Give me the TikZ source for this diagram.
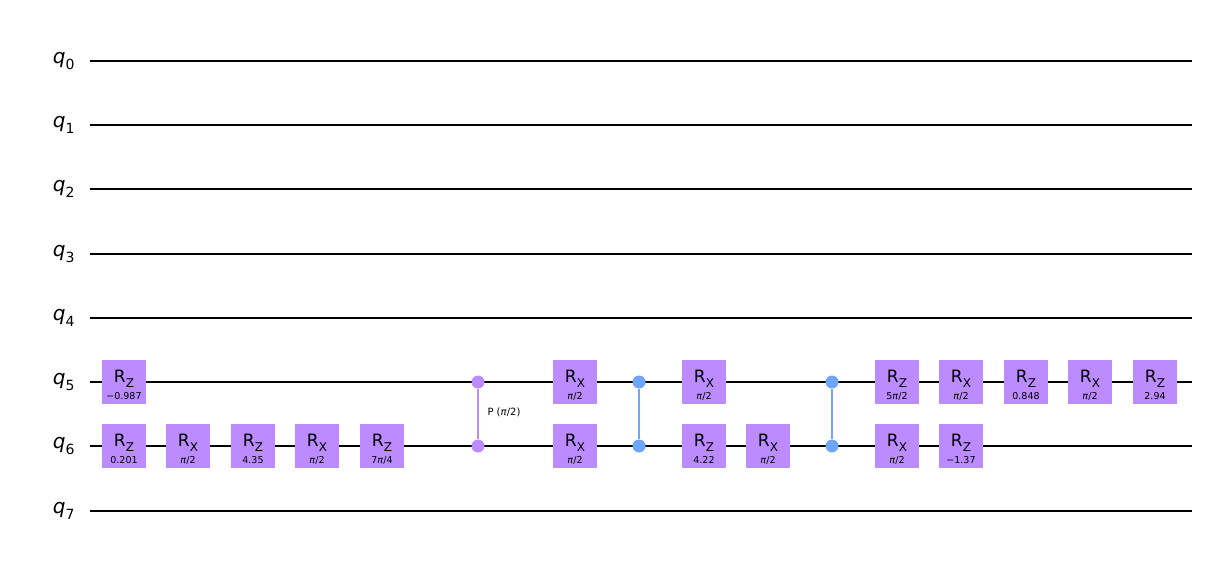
\documentclass[tikz,border=0pt]{standalone}
\usepackage{fontspec}
\setmainfont{DejaVu Sans}
\definecolor{gpurp}{RGB}{187,139,255}
\definecolor{gblue}{RGB}{111,164,255}
\begin{document}
\begin{tikzpicture}[x=1pt,y=-1pt,
  wire/.style={line width=2.2pt,black},
  gate/.style={fill=gpurp,draw=none,minimum width=44pt,minimum height=44pt,inner sep=0pt,font=\fontsize{17}{17}\selectfont,text depth=0pt},
  par/.style={inner sep=0pt,font=\fontsize{9.5}{9.5}\selectfont},
  lbl/.style={font=\fontsize{20}{20}\selectfont},
  dotp/.style={circle,fill=gpurp,minimum size=13pt,inner sep=0pt},
  dotc/.style={circle,fill=gblue,minimum size=13pt,inner sep=0pt}]
\useasboundingbox (0,0) rectangle (1207,560);
\foreach \i/\y in {0/61,1/125,2/189,3/254,4/318,5/382,6/446,7/511}{
  \node[lbl,anchor=east] (l\i) at (78,\y) {\textit{q}\raisebox{-0.3em}{\fontsize{14}{14}\selectfont\i}};
  \coordinate (ws\i) at (90,\y); \coordinate (we\i) at (1192,\y);
  \draw[wire] (ws\i) -- (we\i);
}
\newcommand{\gt}[5]{\node[gate,text height=0pt] (#1) at (#2,#3) {};
  \node[inner sep=0pt,font=\fontsize{17}{17}\selectfont] (#1t) at (#2,#3-6) {R\smash{\raisebox{-0.3em}{\fontsize{12}{12}\selectfont #4}}};
  \node[par] (#1p) at (#2,#3+14) {#5};}
% q5
\gt{a1}{124}{382}{Z}{−0.987}
\gt{a2}{575}{382}{X}{\textit{π}/2}
\gt{a3}{704}{382}{X}{\textit{π}/2}
\gt{a4}{897}{382}{Z}{5\textit{π}/2}
\gt{a5}{961}{382}{X}{\textit{π}/2}
\gt{a6}{1026}{382}{Z}{0.848}
\gt{a7}{1090}{382}{X}{\textit{π}/2}
\gt{a8}{1155}{382}{Z}{2.94}
% q6
\gt{b1}{124}{446}{Z}{0.201}
\gt{b2}{188}{446}{X}{\textit{π}/2}
\gt{b3}{253}{446}{Z}{4.35}
\gt{b4}{317}{446}{X}{\textit{π}/2}
\gt{b5}{382}{446}{Z}{7\textit{π}/4}
\gt{b6}{575}{446}{X}{\textit{π}/2}
\gt{b7}{704}{446}{Z}{4.22}
\gt{b8}{768}{446}{X}{\textit{π}/2}
\gt{b9}{897}{446}{X}{\textit{π}/2}
\gt{b10}{961}{446}{Z}{−1.37}
% P gate
\node[dotp] (p1) at (478,382) {};
\node[dotp] (p2) at (478,446) {};
\draw[line width=2.2pt,gpurp] (p1) -- (p2);
\node[anchor=west,font=\fontsize{10}{10}\selectfont] (pl) at (484,412) {P (\textit{π}/2)};
% CZ
\node[dotc] (c1) at (639,382) {};
\node[dotc] (c2) at (639,446) {};
\draw[line width=2.2pt,gblue] (c1) -- (c2);
\node[dotc] (d1) at (832,382) {};
\node[dotc] (d2) at (832,446) {};
\draw[line width=2.2pt,gblue] (d1) -- (d2);
\end{tikzpicture}
\end{document}
